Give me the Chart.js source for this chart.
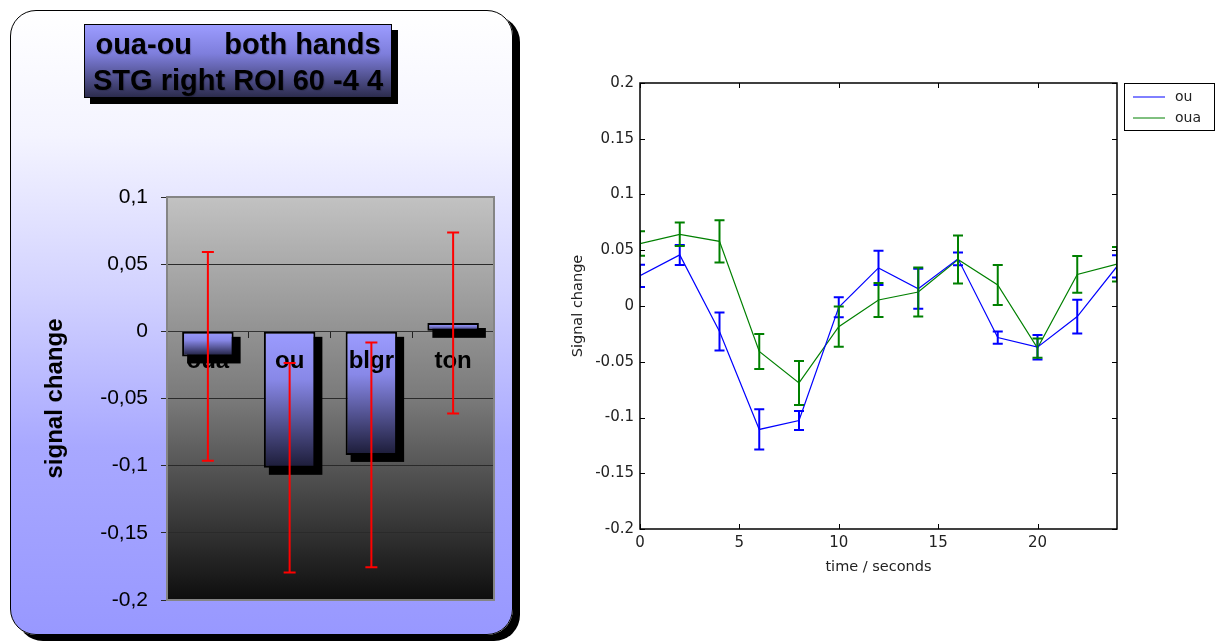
<!DOCTYPE html>
<html>
<head>
<meta charset="utf-8">
<script src="https://cdn.jsdelivr.net/npm/chart.js@4"></script>
<style>
  body { margin: 0; background: #fff; width: 1215px; height: 642px; overflow: hidden; position: relative; font-family: "Liberation Sans", Arial, sans-serif; }
  #panel { position: absolute; left: 10px; top: 10px; width: 503px; height: 625px; box-sizing: border-box;
    border: 1px solid #000; border-radius: 26px; box-shadow: 7px 6px 0 #000;
    background: linear-gradient(#ffffff 0%, #f4f4ff 20%, #d2d2ff 45%, #a8a8ff 70%, #9898ff 100%); }
  #barWrap { position: absolute; left: 0; top: 0; width: 503px; height: 625px; }
  #titleBox { position: absolute; left: 73px; top: 13px; width: 308px; height: 74px; box-sizing: border-box;
    border: 1px solid #000; box-shadow: 6px 6px 0 #000;
    background: linear-gradient(#9c9cff 0%, #7e7edc 40%, #2c2c4e 100%);
    font: bold 29px "Liberation Sans", Arial, sans-serif; color: #000; white-space: pre; text-align: center;
    line-height: 36px; padding-top: 1px; text-shadow: 1px 1px 1px rgba(0,0,0,0.2); }
  #lineWrap { position: absolute; left: 560px; top: 50px; width: 655px; height: 528px; }
</style>
</head>
<body>
<div id="panel">
  <div id="barWrap"><canvas id="barChart"></canvas></div>
  <div id="titleBox">oua-ou    both hands
STG right ROI 60 -4 4</div>
</div>
<div id="lineWrap"><canvas id="lineChart"></canvas></div>

<script>
// left chart: mean signal change per condition
const barCats = ["oua", "ou", "blgr", "ton"];
const barMeans = [-0.0187, -0.1016, -0.092, 0.0062];
const barErrs = [0.0777, 0.078, 0.0837, 0.0673];
const barTicks = [0.1, 0.05, 0, -0.05, -0.1, -0.15, -0.2];

// right chart: time course
const times = [0, 2, 4, 6, 8, 10, 12, 14, 16, 18, 20, 22, 24];
const ouMean = [0.0271, 0.0458, -0.0229, -0.1107, -0.1027, -0.0012, 0.0342, 0.0155, 0.0423, -0.0283, -0.0369, -0.0095, 0.0355];
const ouErr = [0.010, 0.009, 0.017, 0.018, 0.0085, 0.009, 0.0153, 0.018, 0.0057, 0.0055, 0.011, 0.0152, 0.010];
const ouaMean = [0.056, 0.0643, 0.058, -0.0408, -0.069, -0.0185, 0.0054, 0.0125, 0.0417, 0.0188, -0.0378, 0.0283, 0.0375];
const ouaErr = [0.011, 0.0105, 0.019, 0.0157, 0.0197, 0.018, 0.0152, 0.022, 0.0215, 0.018, 0.0086, 0.0165, 0.0155];
const timeTicks = [0, 5, 10, 15, 20];

const fontFam = '"Liberation Sans", Arial, sans-serif';
const mlFont = '"DejaVu Sans", sans-serif';

function fmt(v) {
    return String(+(+v).toFixed(2));
}

// ---------- bar chart ----------
const plotBg = {
    id: "plotBg",
    beforeDraw(chart) {
        const { ctx, chartArea: a } = chart;
        const g = ctx.createLinearGradient(0, a.top, 0, a.bottom);
        g.addColorStop(0, "#c2c2c2");
        g.addColorStop(0.5, "#7a7a7a");
        g.addColorStop(1, "#0e0e0e");
        ctx.save();
        ctx.fillStyle = g;
        ctx.fillRect(a.left, a.top, a.right - a.left, a.bottom - a.top);
        ctx.restore();
    },
    beforeDatasetsDraw(chart) {
        const { ctx, chartArea: a } = chart;
        ctx.save();
        ctx.strokeStyle = "#858585";
        ctx.lineWidth = 2;
        ctx.strokeRect(a.left, a.top, a.right - a.left, a.bottom - a.top);
        ctx.restore();
    }
};

// black drop shadow behind every bar, taken from the bar elements
const barShadow = {
    id: "barShadow",
    beforeDatasetDraw(chart, args) {
        const ctx = chart.ctx;
        ctx.save();
        ctx.fillStyle = "#000";
        args.meta.data.forEach((el) => {
            const p = el.getProps(["x", "y", "base", "width"], true);
            const top = Math.min(p.y, p.base) - 1, bot = Math.max(p.y, p.base) + 1;
            ctx.fillRect(p.x - p.width / 2 - 1 + 6, top + 6, p.width + 2, bot - top);
        });
        ctx.restore();
    }
};

const redErrors = {
    id: "redErrors",
    afterDraw(chart) {
        const { ctx, scales } = chart;
        ctx.save();
        ctx.strokeStyle = "#ff0000";
        ctx.lineWidth = 2;
        barMeans.forEach((m, i) => {
            const x = scales.x.getPixelForValue(i);
            const yHi = scales.y.getPixelForValue(m + barErrs[i]);
            const yLo = scales.y.getPixelForValue(m - barErrs[i]);
            ctx.beginPath();
            ctx.moveTo(x, yHi); ctx.lineTo(x, yLo);
            ctx.moveTo(x - 6, yHi); ctx.lineTo(x + 6, yHi);
            ctx.moveTo(x - 6, yLo); ctx.lineTo(x + 6, yLo);
            ctx.stroke();
        });
        ctx.restore();
    }
};

new Chart(document.getElementById("barChart"), {
    type: "bar",
    data: {
        labels: barCats,
        datasets: [{
            data: barMeans,
            borderColor: "#000",
            borderWidth: 2,
            borderSkipped: false,
            categoryPercentage: 1,
            barPercentage: 0.63,
            backgroundColor: (c) => {
                const chart = c.chart;
                if (!chart.chartArea || c.type !== "data") return "#9999ff";
                const y = chart.scales.y;
                const y0 = y.getPixelForValue(0), y1 = y.getPixelForValue(c.raw);
                const g = chart.ctx.createLinearGradient(0, Math.min(y0, y1), 0, Math.max(y0, y1) + 0.01);
                g.addColorStop(0, "#9c9cff");
                g.addColorStop(0.35, "#8888e8");
                g.addColorStop(1, "#1c1c38");
                return g;
            }
        }]
    },
    options: {
        responsive: true,
        maintainAspectRatio: false,
        animation: false,
        layout: { padding: { left: 26, top: 186, right: 20, bottom: 36 } },
        plugins: { legend: { display: false }, tooltip: { enabled: false } },
        scales: {
            x: {
                position: { y: 0 },
                offset: true,
                grid: { offset: true, drawOnChartArea: false, drawTicks: true, tickLength: 6, color: "#222" },
                border: { color: "#333", width: 1 },
                ticks: { z: 1, color: "#000", padding: 10, font: { family: fontFam, size: 24, weight: "bold" } }
            },
            y: {
                min: -0.2,
                max: 0.1,
                afterFit: (s) => { s.width = 130; },
                afterBuildTicks: (s) => { s.ticks = barTicks.map(v => ({ value: v })); },
                grid: { color: "#2a2a2a", lineWidth: 1, drawTicks: true, tickLength: 6 },
                border: { color: "#222", width: 1 },
                ticks: {
                    color: "#000", padding: 13,
                    font: { family: fontFam, size: 21 },
                    callback: (v) => fmt(v).replace(".", ",")
                },
                title: { display: true, text: "signal change", color: "#000", font: { family: fontFam, size: 24, weight: "bold" } }
            }
        }
    },
    plugins: [plotBg, barShadow, redErrors]
});

// ---------- time course ----------
const frameTicks = {
    id: "frameTicks",
    afterDatasetsDraw(chart) {
        const { ctx, chartArea: a, scales } = chart;
        ctx.save();
        ctx.beginPath();
        ctx.rect(a.left, a.top, a.right - a.left, a.bottom - a.top);
        ctx.clip();
        // error bars
        ctx.lineWidth = 2;
        chart.data.datasets.forEach((ds) => {
            ctx.strokeStyle = ds.borderColor;
            ds.data.forEach((p, i) => {
                const x = scales.x.getPixelForValue(p.x);
                const yHi = scales.y.getPixelForValue(p.y + ds.errors[i]);
                const yLo = scales.y.getPixelForValue(p.y - ds.errors[i]);
                ctx.beginPath();
                ctx.moveTo(x, yHi); ctx.lineTo(x, yLo);
                ctx.moveTo(x - 5, yHi); ctx.lineTo(x + 5, yHi);
                ctx.moveTo(x - 5, yLo); ctx.lineTo(x + 5, yLo);
                ctx.stroke();
            });
        });
        ctx.restore();
    },
    afterDraw(chart) {
        const { ctx, chartArea: a, scales } = chart;
        ctx.save();
        ctx.strokeStyle = "#000";
        ctx.lineWidth = 1.5;
        ctx.strokeRect(a.left, a.top, a.right - a.left, a.bottom - a.top);
        ctx.lineWidth = 1;
        ctx.beginPath();
        scales.y.ticks.forEach((t) => {
            const y = Math.round(scales.y.getPixelForValue(t.value)) + 0.5;
            ctx.moveTo(a.left, y); ctx.lineTo(a.left + 5, y);
            ctx.moveTo(a.right, y); ctx.lineTo(a.right - 5, y);
        });
        scales.x.ticks.forEach((t) => {
            const x = Math.round(scales.x.getPixelForValue(t.value)) + 0.5;
            ctx.moveTo(x, a.bottom); ctx.lineTo(x, a.bottom - 5);
            ctx.moveTo(x, a.top); ctx.lineTo(x, a.top + 5);
        });
        ctx.stroke();

        // legend box
        const lx = a.right + 7, ly = a.top, lw = chart.width - lx - 1, lh = 47;
        ctx.fillStyle = "#fff";
        ctx.fillRect(lx, ly, lw, lh);
        ctx.lineWidth = 1;
        ctx.strokeRect(lx + 0.5, ly + 0.5, lw, lh);
        ctx.font = "14px " + mlFont;
        ctx.textBaseline = "middle";
        chart.data.datasets.forEach((ds, i) => {
            const yy = ly + 14 + i * 21;
            ctx.strokeStyle = ds.borderColor;
            ctx.beginPath();
            ctx.moveTo(lx + 9, yy); ctx.lineTo(lx + 41, yy);
            ctx.stroke();
            ctx.fillStyle = "#222";
            ctx.fillText(ds.label, lx + 51, yy);
        });
        ctx.restore();
    }
};

new Chart(document.getElementById("lineChart"), {
    type: "line",
    data: {
        datasets: [
            {
                label: "ou",
                data: times.map((t, i) => ({ x: t, y: ouMean[i] })),
                errors: ouErr,
                borderColor: "#0000ff",
                borderWidth: 1.2,
                pointRadius: 0,
                tension: 0
            },
            {
                label: "oua",
                data: times.map((t, i) => ({ x: t, y: ouaMean[i] })),
                errors: ouaErr,
                borderColor: "#008000",
                borderWidth: 1.2,
                pointRadius: 0,
                tension: 0
            }
        ]
    },
    options: {
        responsive: true,
        maintainAspectRatio: false,
        animation: false,
        layout: { padding: { left: 6, top: 33, right: 98, bottom: 0 } },
        plugins: { legend: { display: false }, tooltip: { enabled: false } },
        scales: {
            x: {
                type: "linear",
                min: 0,
                max: 24,
                afterFit: (s) => { s.height = 49; },
                afterBuildTicks: (s) => { s.ticks = timeTicks.map(v => ({ value: v })); },
                grid: { display: false, drawTicks: false },
                border: { display: false },
                ticks: { color: "#222", padding: 5, font: { family: mlFont, size: 15 }, maxRotation: 0 },
                title: { display: true, text: "time / seconds", color: "#222", padding: { top: 2, bottom: 2 }, font: { family: mlFont, size: 14.5 } }
            },
            y: {
                min: -0.2,
                max: 0.2,
                afterFit: (s) => { s.width = 74; },
                grid: { display: false, drawTicks: false },
                border: { display: false },
                ticks: { stepSize: 0.05, color: "#222", padding: 6, font: { family: mlFont, size: 15 }, callback: (v) => fmt(v) },
                title: { display: true, text: "Signal change", color: "#222", font: { family: mlFont, size: 14.5 } }
            }
        }
    },
    plugins: [frameTicks]
});
</script>
</body>
</html>
